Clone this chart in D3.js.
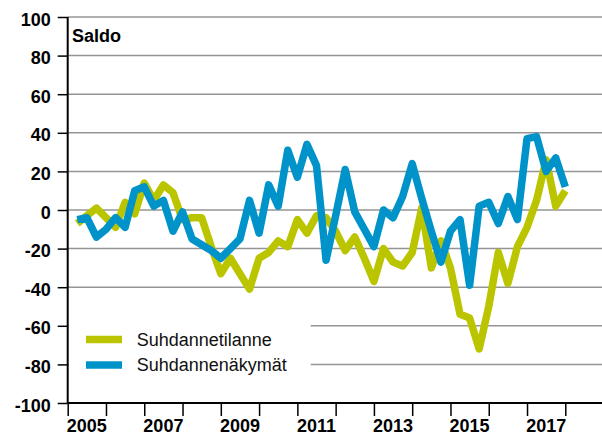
<!DOCTYPE html>
<html lang="fi">
  <head>
    <meta charset="UTF-8" />
    <title>Suhdannebarometri</title>
    <script type="text/javascript" src="https://cdn.jsdelivr.net/npm/d3@7"></script>
    <style>
      body {
        margin: 0;
        background: #ffffff;
      }
      svg {
        display: block;
        font-family: "Liberation Sans", Arial, sans-serif;
      }
    </style>
  </head>
  <body>
    <script>
      // vuodet ja neljännekset (2005Q1 ... 2017Q4)
      var years = [2005, 2006, 2007, 2008, 2009, 2010, 2011, 2012, 2013, 2014, 2015, 2016, 2017];
      var quarters = ["Q1", "Q2", "Q3", "Q4"];

      // Suhdannetilanne, saldoluku
      var tilanne = [
        -7, -3, 1, -4, -9, 4, -2, 14, 5, 13, 9, -5, -4,
        -4, -19, -33, -25, -33, -41, -25, -22, -16, -19, -5, -12, -3,
        -4, -11, -21, -14, -25, -37, -20, -27, -29, -22, 1, -30, -16,
        -30, -54, -56, -72, -50, -22, -38, -19, -9, 5, 26, 2, 10
      ];

      // Suhdannenäkymät, saldoluku
      var nakymat = [
        -5, -4, -14, -10, -4, -9, 10, 12, 2, 5, -11, -1, -15,
        -18, -21, -25, -20, -15, 5, -12, 13, 2, 31, 17, 34, 23,
        -26, -3, 21, -1, -10, -19, 0, -4, 7, 24, 6, -11, -27,
        -11, -5, -39, 2, 4, -7, 7, -5, 37, 38, 20, 27, 12
      ];

      var yTicks = [-100, -80, -60, -40, -20, 0, 20, 40, 60, 80, 100];
      var yearLabels = [2005, 2007, 2009, 2011, 2013, 2015, 2017];

      var seriesNames = ["Suhdannetilanne", "Suhdannenäkymät"];
      var seriesColors = ["#bac500", "#0093c9"];

      var periods = [];
      years.forEach(function (yr) {
        quarters.forEach(function (q, qi) {
          periods.push({ label: yr + q, t: yr + (qi + 1) / 4 });
        });
      });

      var width = 602,
        height = 434;

      var svg = d3
        .select("body")
        .append("svg")
        .attr("width", width)
        .attr("height", height);

      var x = d3.scaleLinear().domain([2005, 2018]).range([67.7, 565.3]);
      var y = d3.scaleLinear().domain([-100, 100]).range([403, 17]);

      // vaakaviivat
      svg
        .append("g")
        .selectAll("line")
        .data(yTicks.filter(function (d) { return d != -100; }))
        .enter()
        .append("line")
        .attr("x1", x(2005))
        .attr("x2", width)
        .attr("y1", function (d) { return y(d); })
        .attr("y2", function (d) { return y(d); })
        .attr("stroke", "#959595")
        .attr("stroke-width", 1.5);

      // selitteen tausta peittää ruudukon
      svg
        .append("rect")
        .attr("x", x(2005) + 1)
        .attr("y", 300)
        .attr("width", 242)
        .attr("height", 96)
        .attr("fill", "#ffffff");

      // y-akseli
      var yAxis = svg
        .append("g")
        .attr("transform", "translate(" + x(2005) + ",0)")
        .call(
          d3.axisLeft(y)
            .tickValues(yTicks)
            .tickSize(10)
            .tickPadding(7)
            .tickFormat(function (d) { return String(d); })
        );
      yAxis.select(".domain").remove();
      yAxis.selectAll(".tick line").attr("stroke", "#000").attr("stroke-width", 1.5);
      yAxis
        .selectAll(".tick text")
        .attr("dy", "0.45em")
        .attr("fill", "#000")
        .attr("font-size", 18)
        .attr("font-weight", "bold")
        .attr("font-family", "Liberation Sans, Arial, sans-serif");

      svg
        .append("line")
        .attr("x1", x(2005))
        .attr("x2", x(2005))
        .attr("y1", y(100))
        .attr("y2", y(-100))
        .attr("stroke", "#000")
        .attr("stroke-width", 2);

      // x-akseli
      var xAxis = svg
        .append("g")
        .attr("transform", "translate(0," + y(-100) + ")")
        .call(
          d3.axisBottom(x)
            .tickValues(d3.range(2005, 2019))
            .tickSize(13)
            .tickFormat("")
        );
      xAxis.select(".domain").remove();
      xAxis.selectAll(".tick line").attr("stroke", "#000").attr("stroke-width", 1.5);

      svg
        .append("line")
        .attr("x1", x(2005))
        .attr("x2", width)
        .attr("y1", y(-100))
        .attr("y2", y(-100))
        .attr("stroke", "#000")
        .attr("stroke-width", 2);

      svg
        .append("g")
        .selectAll("text")
        .data(yearLabels)
        .enter()
        .append("text")
        .attr("x", function (d) { return x(d + 0.5); })
        .attr("y", 431.5)
        .attr("text-anchor", "middle")
        .attr("font-size", 18)
        .attr("font-weight", "bold")
        .text(function (d) { return d; });

      svg
        .append("text")
        .attr("x", 72)
        .attr("y", 41.5)
        .attr("font-size", 18)
        .attr("font-weight", "bold")
        .text("Saldo");

      // viivat
      var line = d3
        .line()
        .x(function (d, i) { return x(periods[i].t); })
        .y(function (d) { return y(d); });

      [tilanne, nakymat].forEach(function (s, k) {
        svg
          .append("path")
          .datum(s)
          .attr("d", line)
          .attr("fill", "none")
          .attr("stroke", seriesColors[k])
          .attr("stroke-width", 7.5)
          .attr("stroke-linejoin", "round");
      });

      // selite
      var legend = svg
        .selectAll(".legend")
        .data(seriesNames)
        .enter()
        .append("g")
        .attr("class", "legend")
        .attr("transform", function (d, i) {
          return "translate(86," + (339.5 + i * 25.5) + ")";
        });
      legend
        .append("line")
        .attr("x1", 0)
        .attr("x2", 36)
        .attr("stroke", function (d, i) { return seriesColors[i]; })
        .attr("stroke-width", 7.6);
      legend
        .append("text")
        .attr("x", 50.7)
        .attr("y", 6)
        .attr("font-size", 18)
        .attr("fill", "#111")
        .text(function (d) { return d; });
    </script>
  </body>
</html>
